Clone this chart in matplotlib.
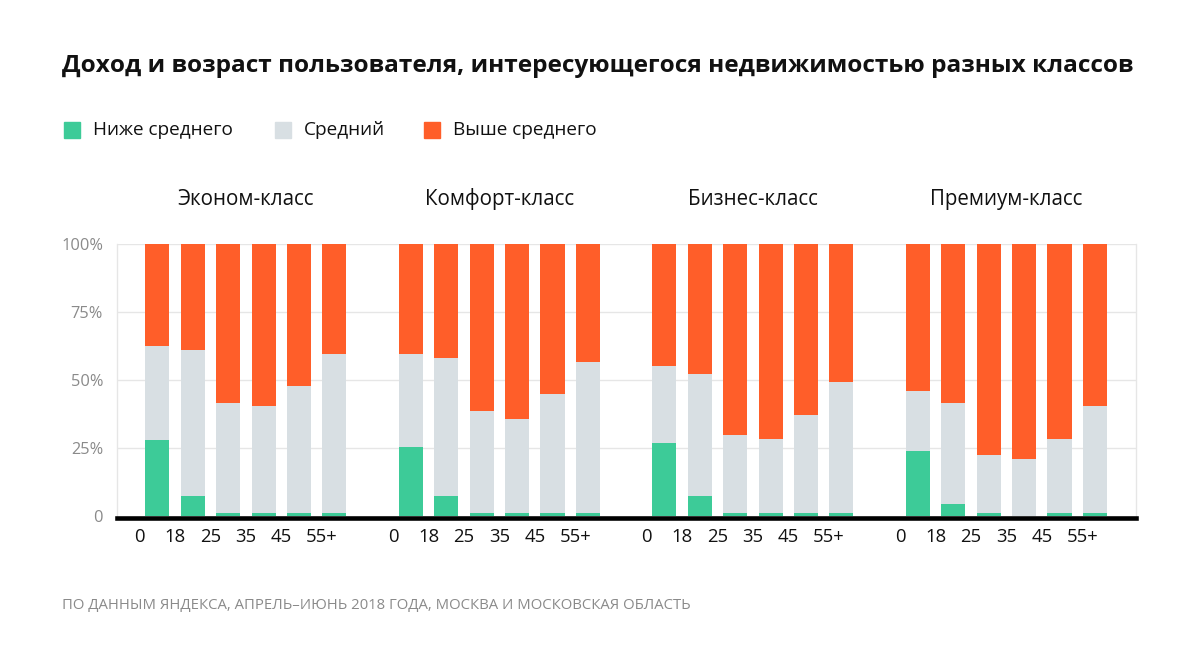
import matplotlib
matplotlib.use("Agg")
import matplotlib.pyplot as plt
from matplotlib.patches import Rectangle
import numpy as np

plt.rcParams['font.family'] = ['Open Sans', 'DejaVu Sans']

title = "Доход и возраст пользователя, интересующегося недвижимостью разных классов"
groups = ["Эконом-класс", "Комфорт-класс", "Бизнес-класс", "Премиум-класс"]
age_labels = ["0", "18", "25", "35", "45", "55+"]
series_names = ["Ниже среднего", "Средний", "Выше среднего"]
colors = ["#3DCB98", "#D8DFE3", "#FF5E29"]
footer = "ПО ДАННЫМ ЯНДЕКСА, АПРЕЛЬ–ИЮНЬ 2018 ГОДА, МОСКВА И МОСКОВСКАЯ ОБЛАСТЬ"

# Share of "below average" income (%), per group, per age bar
low = [
    [28.1, 7.4, 1.2, 1.2, 1.2, 1.2],
    [25.2, 7.4, 1.2, 1.2, 1.2, 1.2],
    [26.8, 7.4, 1.2, 1.2, 1.2, 1.2],
    [23.8, 4.3, 1.2, 0.0, 1.2, 1.2],
]
# Cumulative share of below average + average (%)
low_mid = [
    [62.6, 61.2, 41.7, 40.3, 47.8, 59.6],
    [59.6, 58.1, 38.7, 35.7, 44.7, 56.7],
    [55.2, 52.1, 29.8, 28.2, 37.3, 49.1],
    [46.1, 41.6, 22.3, 20.8, 28.2, 40.3],
]

low = np.array(low)
mid = np.array(low_mid) - low
high = 100 - np.array(low_mid)

fig = plt.figure(figsize=(12, 6.69), dpi=100)
ax = fig.add_axes([117/1200, 1-516/669, (1136-117)/1200, (516-244)/669])

group_step = 7.16
width = 0.68
for g in range(len(groups)):
    xs = g*group_step + np.arange(len(age_labels))
    ax.bar(xs, low[g], width, color=colors[0], zorder=2)
    ax.bar(xs, mid[g], width, bottom=low[g], color=colors[1], zorder=2)
    ax.bar(xs, high[g], width, bottom=low[g]+mid[g], color=colors[2], zorder=2)
    for i, lab in enumerate(age_labels):
        off = 0.15 if lab.endswith('+') else 0.0
        ax.text(xs[i]-0.5+off, -4.5, lab, ha='center', va='top', fontsize=13.3, color='#111111')
    cx = xs.mean()
    fig.text((157.5 + (cx)*35.4)/1200, 1-199/669, groups[g], ha='center', va='center',
             fontsize=14.8, color='#111111')

ax.set_xlim(-1.14, 27.64)
ax.set_ylim(0, 100)
ax.set_yticks([0, 25, 50, 75, 100])
ax.set_yticklabels(["0", "25%", "50%", "75%", "100%"], fontsize=11.8, color='#8a8a8a')
ax.tick_params(axis='y', length=0, pad=10)
ax.set_xticks([])
for y in [25, 50, 75, 100]:
    ax.axhline(y, color='#e6e6e6', lw=1, zorder=1)
for s in ['top', 'bottom']:
    ax.spines[s].set_visible(False)
for s in ['left', 'right']:
    ax.spines[s].set_color('#e6e6e6')
    ax.spines[s].set_linewidth(1)
ax.axhline(-0.9, color='black', lw=3.3, zorder=3, clip_on=False)

fig.text(62/1200, 1-66/669, title, ha='left', va='center', fontsize=17.6, fontweight='bold', color='#111111')

legend_x = [64, 275, 424]
for i, name in enumerate(series_names):
    fig.patches.append(Rectangle((legend_x[i]/1200, 1-138/669), 16/1200, 16/669,
                                 transform=fig.transFigure, color=colors[i], figure=fig))
    fig.text((legend_x[i]+29)/1200, 1-130/669, name, ha='left', va='center', fontsize=13.7, color='#111111')

fig.text(62/1200, 1-606/669, footer, ha='left', va='center', fontsize=10.7, color='#8a8a8a')

fig.savefig("out.png", dpi=100, facecolor='white')
